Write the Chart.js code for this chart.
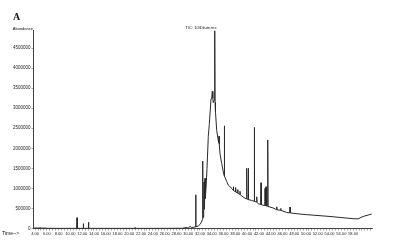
<!DOCTYPE html>
<html>
<head>
<meta charset="utf-8">
<script src="https://cdn.jsdelivr.net/npm/chart.js@4/dist/chart.umd.min.js"></script>
<style>
html,body{margin:0;padding:0;background:#fff;}
#wrap{position:relative;width:398px;height:252px;}
</style>
</head>
<body>
<div id="wrap"><canvas id="c" width="398" height="252"></canvas></div>
<script>
// Retention time (min)
const times = [
  3.65, 3.90, 4.20, 4.50, 4.80, 5.20, 5.60, 6.00, 7.00, 9.00,
  11.07, 11.12, 11.17, 12.14, 12.19, 12.24, 13.02, 13.07, 13.12,
  16.00, 20.92, 20.97, 21.02, 25.00, 29.00, 29.60, 30.00, 30.30, 30.60, 31.00,
  31.22, 31.27, 31.32, 31.70, 32.00, 32.25,
  32.41, 32.46, 32.51, 32.63, 32.68, 32.73, 32.80, 32.85, 32.90,
  33.02, 33.19, 33.41, 33.58, 33.87, 34.00, 34.09, 34.18, 34.26, 34.44,
  34.50, 34.56, 34.63, 34.84, 35.11, 35.18, 35.23, 35.28, 35.40, 35.69, 35.96,
  36.08, 36.13, 36.18, 36.25, 36.54, 36.81, 37.39,
  37.61, 37.66, 37.71, 37.95, 38.02, 38.07, 38.12, 38.35, 38.40, 38.45,
  38.74, 38.79, 38.84, 39.64, 39.88, 39.93, 39.98, 40.15, 40.20, 40.25,
  40.78, 41.17, 41.22, 41.27, 41.58, 41.63, 41.68, 41.90,
  42.31, 42.36, 42.41, 42.99, 43.04, 43.10, 43.16, 43.21, 43.26,
  43.45, 43.50, 43.55, 44.45, 44.97, 45.02, 45.07, 45.65, 45.70, 45.75,
  46.72, 47.23, 47.28, 47.33, 48.98, 50.12, 54.07, 57.98, 58.83, 59.68, 61.15
];
// Abundance (TIC counts)
const abundance = [
  5000, 9000, 16000, 9000, 18000, 8000, 12000, 5000, 4000, 3000,
  4000, 270000, 4000, 4000, 120000, 4000, 4000, 155000, 4000,
  3000, 3000, 20000, 3000, 3000, 6000, 22000, 15000, 50000, 25000, 35000,
  40000, 840000, 45000, 60000, 100000, 160000,
  220000, 1680000, 280000, 380000, 1160000, 480000, 600000, 1250000, 750000,
  1000000, 1500000, 2300000, 2600000, 3230000, 3250000, 3420000, 3250000, 3140000, 3200000,
  4930000, 3150000, 2900000, 2440000, 2190000, 2150000, 2300000, 2100000, 1860000, 1620000, 1410000,
  1330000, 2560000, 1300000, 1270000, 1170000, 1080000, 1000000,
  960000, 1040000, 950000, 920000, 915000, 1020000, 905000, 890000, 970000, 880000,
  850000, 930000, 840000, 756000, 740000, 1500000, 735000, 725000, 1500000, 720000,
  700000, 680000, 2520000, 675000, 660000, 790000, 655000, 615000,
  600000, 1140000, 595000, 570000, 1000000, 565000, 565000, 1040000, 560000,
  555000, 2210000, 550000, 510000, 470000, 540000, 468000, 455000, 500000, 452000,
  400000, 390000, 535000, 388000, 360000, 345000, 300000, 245000, 240000, 300000, 360000
];
// Labelled time ticks (min)
const xTickLabels = ['4.00','6.00','8.00','10.00','12.00','14.00','16.00','18.00','20.00','22.00',
  '24.00','26.00','28.00','30.00','32.00','34.00','36.00','38.00','40.00','42.00','44.00',
  '46.00','48.00','50.00','52.00','54.00','56.00','58.00'];
const xMinorStep = 0.5;
const yTickValues = [0, 500000, 1000000, 1500000, 2000000, 2500000, 3000000, 3500000, 4000000, 4500000];
const chartTitle = 'TIC: 10\\Dilute.ms';
const panelLabel = 'A';
const yLabel = 'Abundance';
const xLabel = 'Time-->';

const points = times.map((t, i) => ({x: t, y: abundance[i]}));
const labelByValue = {};
xTickLabels.forEach(l => { labelByValue[parseFloat(l).toFixed(2)] = l; });

const textPlugin = {
  id: 'texts',
  afterDraw(chart) {
    const ctx = chart.ctx;
    ctx.save();
    ctx.fillStyle = '#111';
    ctx.font = "bold 10px 'Liberation Serif'";
    ctx.textAlign = 'left';
    ctx.textBaseline = 'alphabetic';
    ctx.fillText(panelLabel, 13, 20);
    ctx.font = "4px 'Liberation Sans'";
    ctx.textAlign = 'right';
    ctx.textBaseline = 'middle';
    ctx.fillText(yLabel, 33, 29);
    ctx.textAlign = 'center';
    ctx.fillText(chartTitle, 201, 28);
    ctx.font = "5px 'Liberation Sans'";
    ctx.textAlign = 'left';
    ctx.fillText(xLabel, 2, 233.5);
    ctx.restore();
  }
};

new Chart(document.getElementById('c'), {
  type: 'line',
  data: {
    datasets: [{
      data: points,
      borderColor: '#2a2a2a',
      borderWidth: 1,
      pointRadius: 0,
      tension: 0,
      fill: false
    }]
  },
  options: {
    responsive: false,
    animation: false,
    events: [],
    layout: {padding: {top: 30, right: 26, bottom: 15.5, left: 0}},
    plugins: {legend: {display: false}, tooltip: {enabled: false}, title: {display: false}},
    scales: {
      x: {
        type: 'linear',
        min: 3.65,
        max: 61.2,
        afterFit(s) { s.height = 8; },
        afterBuildTicks(s) {
          const ticks = [];
          for (let v = 4; v <= s.max + 1e-9; v += xMinorStep) ticks.push({value: Math.round(v * 100) / 100});
          s.ticks = ticks;
        },
        border: {display: true, color: '#444', width: 1},
        grid: {display: true, drawOnChartArea: false, tickLength: 2, color: '#666', lineWidth: 0.6},
        ticks: {
          autoSkip: false,
          maxRotation: 0,
          minRotation: 0,
          padding: 1,
          color: '#222',
          font: {family: 'Liberation Sans', size: 4},
          callback: (v) => labelByValue[Number(v).toFixed(2)] || ''
        }
      },
      y: {
        min: 0,
        max: 4950000,
        afterFit(s) { s.width = 33; },
        border: {display: true, color: '#444', width: 1},
        grid: {display: true, drawOnChartArea: false, tickLength: 1.5, color: '#666', lineWidth: 0.6},
        afterBuildTicks(s) { s.ticks = yTickValues.map(v => ({value: v})); },
        ticks: {
          padding: 1,
          color: '#222',
          font: {family: 'Liberation Sans', size: 4.5},
          callback: (v) => String(v)
        }
      }
    }
  },
  plugins: [textPlugin]
});
</script>
</body>
</html>
